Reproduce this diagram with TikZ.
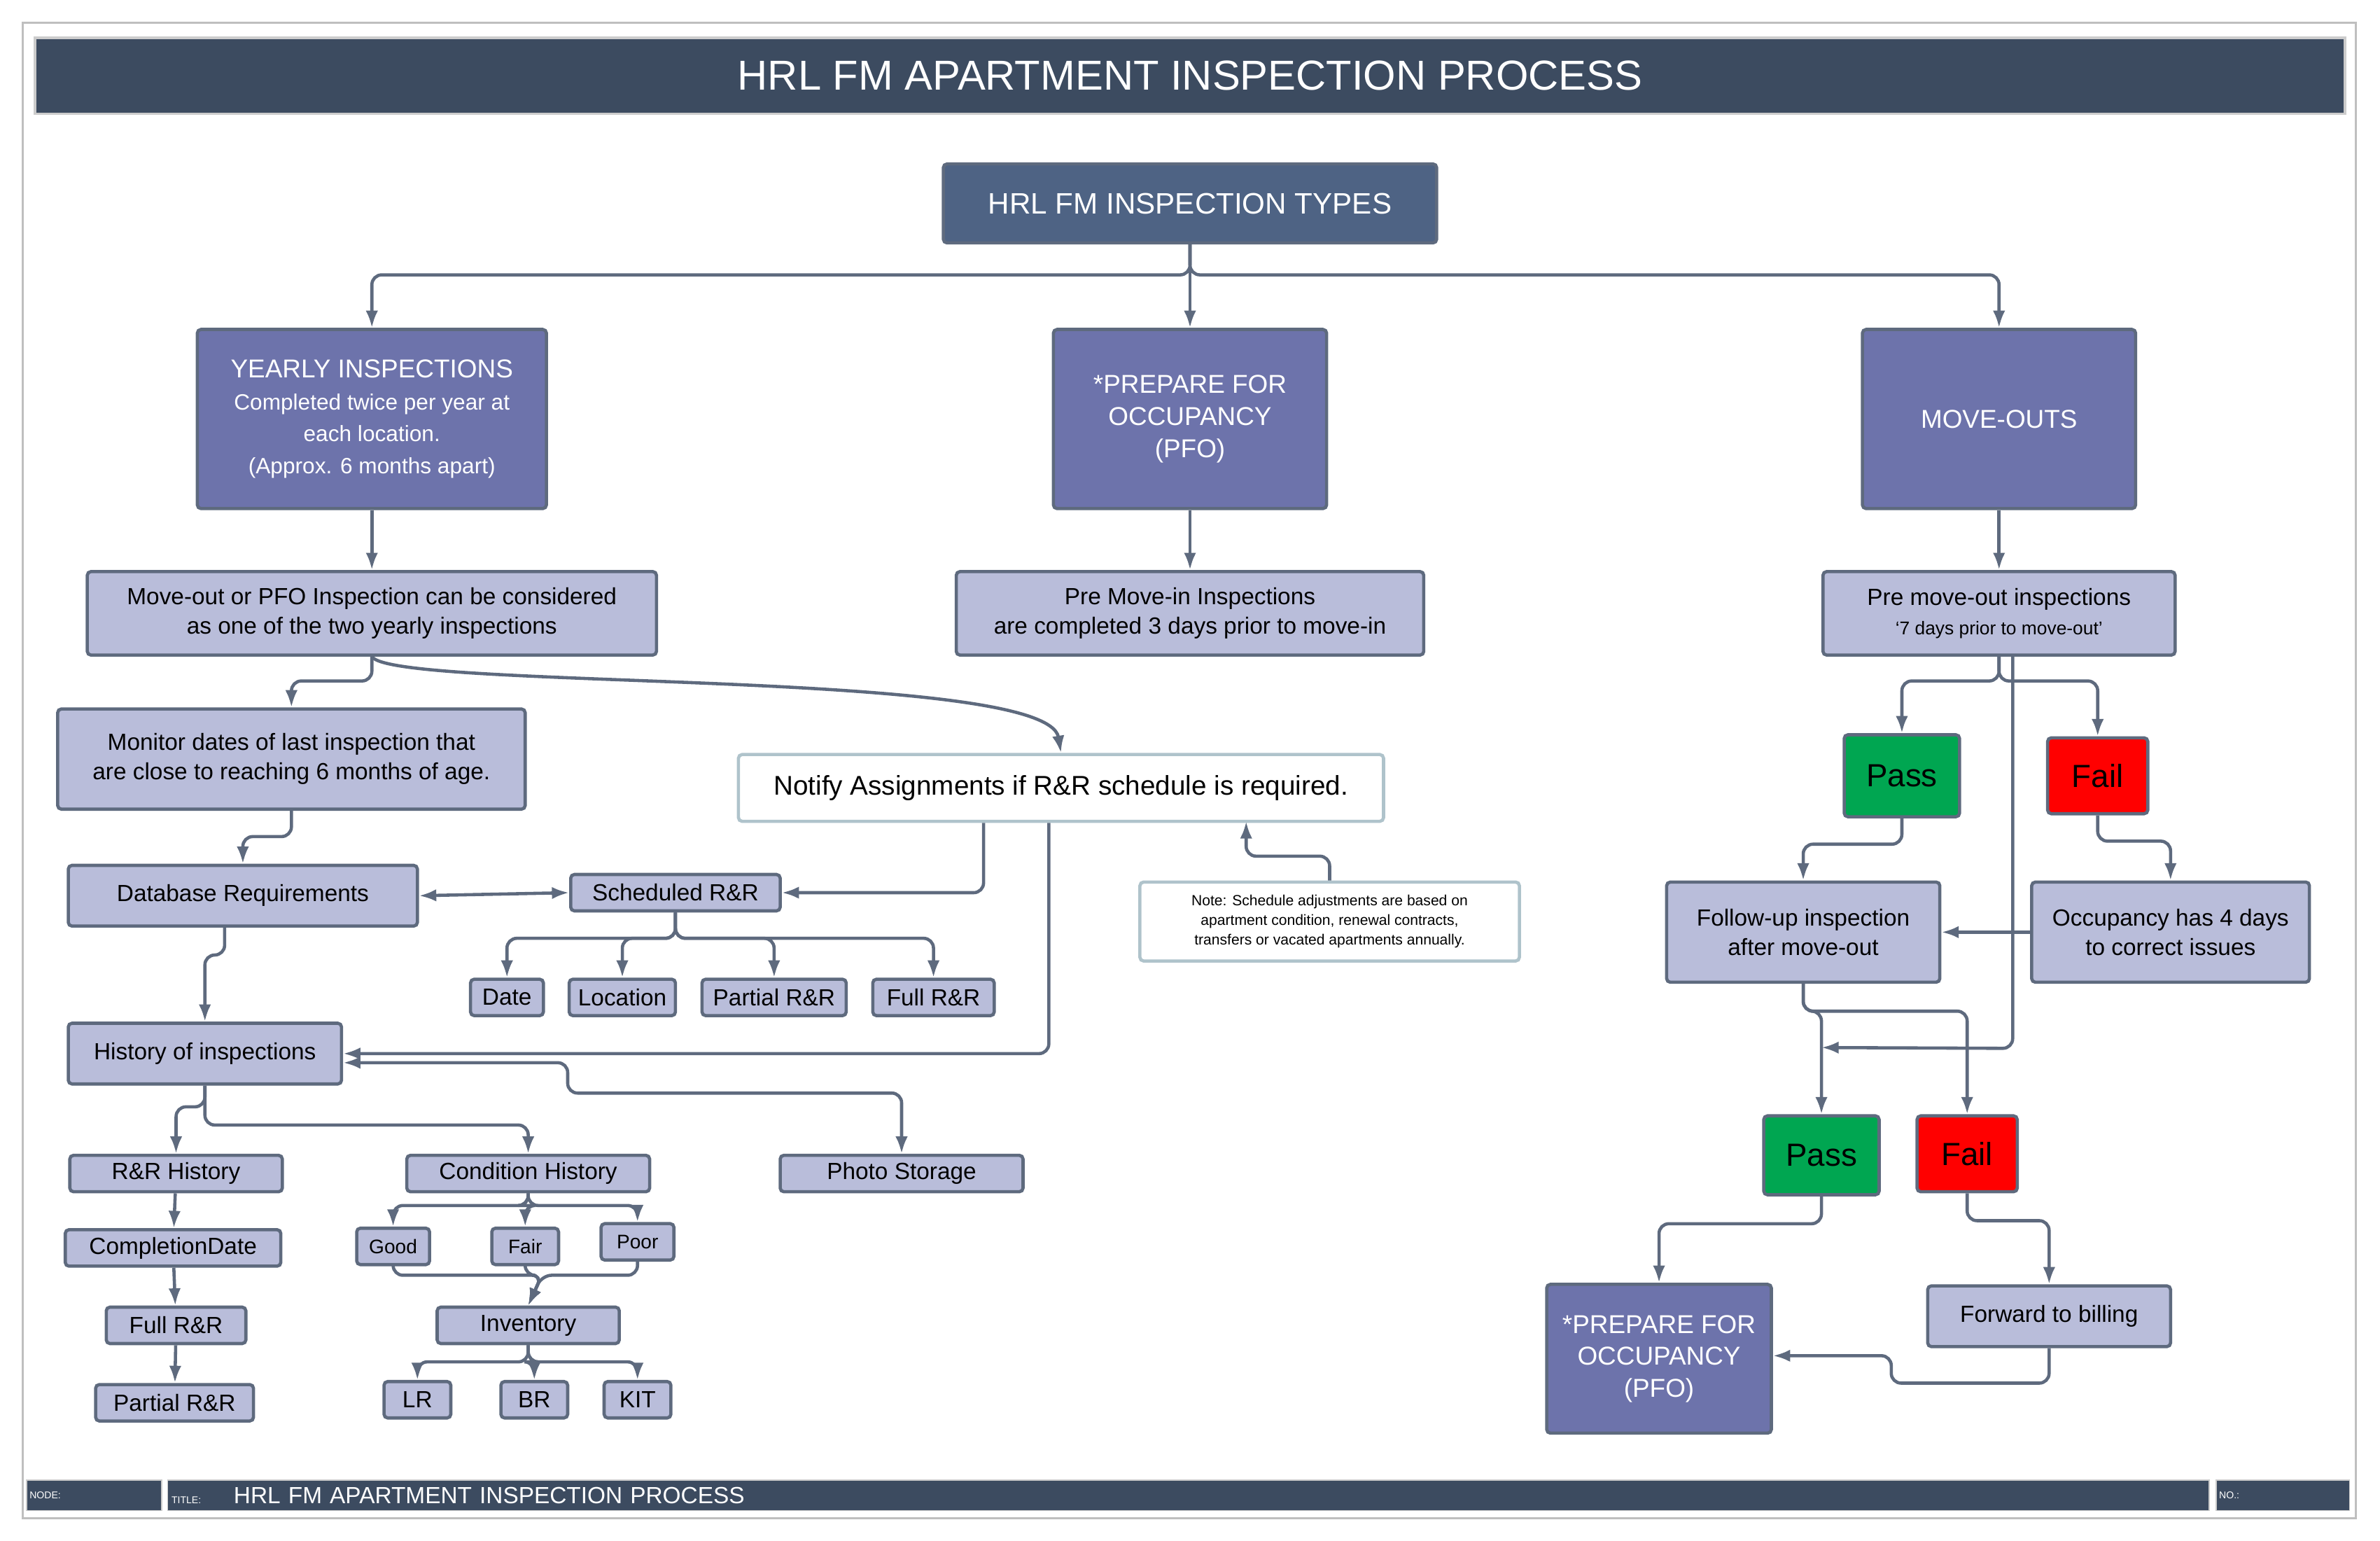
\documentclass[tikz,border=0pt]{standalone}
\usepackage{fontspec}
\setmainfont{Liberation Sans}
\usetikzlibrary{arrows.meta,positioning,calc}
\definecolor{darkbar}{HTML}{3C4B60}
\definecolor{typesblue}{HTML}{4E6384}
\definecolor{midblue}{HTML}{6D73AB}
\definecolor{lightblue}{HTML}{B9BDDA}
\definecolor{linegray}{HTML}{5E6A7E}
\definecolor{passgreen}{HTML}{00A651}
\definecolor{failred}{HTML}{FF0000}
\begin{document}
\begin{tikzpicture}[x=0.02168cm,y=-0.02168cm,
		every node/.style={align=center,font=\fontsize{9.5}{12}\selectfont,inner sep=1pt},
		box/.style 2 args={rectangle,rounded corners=1.5pt,draw=linegray,line width=1.3pt,
			minimum width=#1*0.02168cm,minimum height=#2*0.02168cm},
		lbox/.style 2 args={box={#1}{#2},fill=lightblue},
		mbox/.style 2 args={box={#1}{#2},fill=midblue,text=white,font=\fontsize{10.5}{13}\selectfont},
		link/.style={draw=linegray,line width=1.3pt,rounded corners=4pt,-{Latex[length=7pt,width=5pt]}},
		both/.style={link,{Latex[length=7pt,width=5pt]}-{Latex[length=7pt,width=5pt]}}
	]
	\useasboundingbox (0,0) rectangle (1568,1015);
	% frame and title bars
	\draw[gray!50,line width=1pt] (15,15) rectangle (1552,1000);
	\node[rectangle,fill=darkbar,draw=gray!40,line width=1pt,minimum width=1522*0.02168cm,minimum height=50*0.02168cm,
		text=white,font=\fontsize{17}{20}\selectfont] (title) at (784,50) {HRL FM APARTMENT INSPECTION PROCESS};
	\node[rectangle,fill=darkbar,draw=gray!40,minimum width=89*0.02168cm,minimum height=20*0.02168cm,
		text=white,font=\fontsize{4}{5}\selectfont,text width=85*0.02168cm,align=left] (nodebar) at (62,985) {NODE:};
	\node[rectangle,fill=darkbar,draw=gray!40,minimum width=1345*0.02168cm,minimum height=20*0.02168cm,
		text=white,text width=1340*0.02168cm,align=left] (titlebar) at (783,985)
		{{\fontsize{4}{5}\selectfont TITLE:}\hspace{1.4em}HRL FM APARTMENT INSPECTION PROCESS};
	\node[rectangle,fill=darkbar,draw=gray!40,minimum width=88*0.02168cm,minimum height=20*0.02168cm,
		text=white,font=\fontsize{4}{5}\selectfont,text width=84*0.02168cm,align=left] (nobar) at (1504,985) {NO.:};
	% top level
	\node[box={325}{52},fill=typesblue,text=white,font=\fontsize{12}{14}\selectfont] (types) at (784,134) {HRL FM INSPECTION TYPES};
	\node[mbox={230}{118}] (yearly) at (245,276) {YEARLY INSPECTIONS\\{\fontsize{9}{12}\selectfont Completed twice per year at}\\{\fontsize{9}{12}\selectfont each location.}\\{\fontsize{9}{12}\selectfont (Approx. 6 months apart)}};
	\node[mbox={180}{118}] (pfo) at (784,276) {*PREPARE FOR\\OCCUPANCY\\(PFO)};
	\node[mbox={180}{118}] (moveouts) at (1317,276) {MOVE-OUTS};
	\node[lbox={375}{55}] (considered) at (245,404) {Move-out or PFO Inspection can be considered\\as one of the two yearly inspections};
	\node[lbox={308}{55}] (premovein) at (784,404) {Pre Move-in Inspections\\are completed 3 days prior to move-in};
	\node[lbox={232}{55}] (premoveout) at (1317,404) {Pre move-out inspections\\{\fontsize{7.5}{10}\selectfont `7 days prior to move-out'}};
	\node[lbox={308}{66}] (monitor) at (192,500) {Monitor dates of last inspection that\\are close to reaching 6 months of age.};
	\node[box={425}{44},fill=white,draw=cyan!25!gray!60,font=\fontsize{11}{13}\selectfont] (notify) at (699,519) {Notify Assignments if R\&R schedule is required.};
	\node[box={250}{52},fill=white,draw=cyan!25!gray!60,font=\fontsize{6}{8}\selectfont] (note) at (876,607) {Note: Schedule adjustments are based on\\apartment condition, renewal contracts,\\transfers or vacated apartments annually.};
	% left branch
	\node[lbox={230}{40}] (database) at (160,590) {Database Requirements};
	\node[lbox={138}{24}] (scheduled) at (445,588) {Scheduled R\&R};
	\node[lbox={48}{24}] (date) at (334,657) {Date};
	\node[lbox={70}{24}] (location) at (410,657) {Location};
	\node[lbox={95}{24}] (partialrr) at (510,657) {Partial R\&R};
	\node[lbox={80}{24}] (fullrr) at (615,657) {Full R\&R};
	\node[lbox={180}{40}] (history) at (135,694) {History of inspections};
	\node[lbox={140}{24}] (rrhistory) at (116,773) {R\&R History};
	\node[lbox={160}{24}] (condhistory) at (348,773) {Condition History};
	\node[lbox={160}{24}] (photo) at (594,773) {Photo Storage};
	\node[lbox={142}{24}] (compdate) at (114,822) {CompletionDate};
	\node[lbox={92}{24}] (histfull) at (116,873) {Full R\&R};
	\node[lbox={104}{24}] (histpartial) at (115,924) {Partial R\&R};
	\node[lbox={48}{24},font=\fontsize{8}{10}\selectfont] (good) at (259,821) {Good};
	\node[lbox={44}{24},font=\fontsize{8}{10}\selectfont] (fair) at (346,821) {Fair};
	\node[lbox={48}{24},font=\fontsize{8}{10}\selectfont] (poor) at (420,818) {Poor};
	\node[lbox={120}{24}] (inventory) at (348,873) {Inventory};
	\node[lbox={44}{24}] (lr) at (275,922) {LR};
	\node[lbox={44}{24}] (br) at (352,922) {BR};
	\node[lbox={44}{24}] (kit) at (420,922) {KIT};
	% right branch
	\node[box={76}{54},fill=passgreen,font=\fontsize{13}{15}\selectfont] (pass1) at (1253,511) {Pass};
	\node[box={66}{50},fill=failred,font=\fontsize{13}{15}\selectfont] (fail1) at (1382,511) {Fail};
	\node[lbox={180}{66}] (followup) at (1188,614) {Follow-up inspection\\after move-out};
	\node[lbox={183}{66}] (occupancy) at (1430,614) {Occupancy has 4 days\\to correct issues};
	\node[box={76}{52},fill=passgreen,font=\fontsize{13}{15}\selectfont] (pass2) at (1200,761) {Pass};
	\node[box={66}{50},fill=failred,font=\fontsize{13}{15}\selectfont] (fail2) at (1296,760) {Fail};
	\node[mbox={148}{98}] (pfo2) at (1093,895) {*PREPARE FOR\\OCCUPANCY\\(PFO)};
	\node[lbox={160}{40}] (billing) at (1350,867) {Forward to billing};
	% connectors
	\path[link] (types.south) -- ++(0,20) -| (yearly.north);
	\path[link] (types.south) -- (pfo.north);
	\path[link] (types.south) -- ++(0,20) -| (moveouts.north);
	\path[link] (yearly) -- (considered);
	\path[link] (pfo) -- (premovein);
	\path[link] (moveouts) -- (premoveout);
	\path[link] (considered.south) -- ++(0,16) -| (monitor.north);
	\path[link] (considered.south) .. controls (260,455) and (690,440) .. (notify.north);
	\path[link] (monitor.south) -- ++(0,17) -| (database.north);
	\path[both] (database.east) -- (scheduled.west);
	\path[link] (notify.south -| 648,0) |- (scheduled.east);
	\path[link] (note.north) -- ++(0,-16) -| (821,541);
	\foreach \leaf in {date,location,partialrr,fullrr}
		\path[link] (scheduled.south) -- ++(0,17) -| (\leaf.north);
	\path[link] (database.south -| 148,0) -- ++(0,18) -| (history.north);
	\path[link] (notify.south -| 691,0) |- (history.east);
	\path[link] (premoveout.south -| 1326,0) -- ++(0,258) -- (1200,690);
	\path[both] (history.east) ++(0,6) -| (374,720) -| (photo.north);
	\path[link] (history.south) -- ++(0,14) -| (rrhistory.north);
	\path[link] (history.south) -- ++(0,26) -| (condhistory.north);
	\path[link] (rrhistory) -- (compdate);
	\path[link] (compdate) -- (histfull);
	\path[link] (histfull) -- (histpartial);
	\foreach \leaf in {good,fair,poor}
		\path[link] (condhistory.south) -- ++(0,8) -| (\leaf.north);
	\foreach \leaf in {good,fair,poor}
		\path[link] (\leaf.south) |- (357,840) -- (inventory.north);
	\foreach \leaf in {lr,br,kit}
		\path[link] (inventory.south) -- ++(0,11) -| (\leaf.north);
	\path[link] (premoveout.south) -- ++(0,16) -| (pass1.north);
	\path[link] (premoveout.south) -- ++(0,16) -| (fail1.north);
	\path[link] (pass1.south) -- ++(0,17) -| (followup.north);
	\path[link] (fail1.south) -- ++(0,17) -| (occupancy.north);
	\path[link] (occupancy.west) -- (followup.east);
	\path[link] (followup.south) -- ++(0,18) -| (pass2.north);
	\path[link] (followup.south) -- ++(0,18) -| (fail2.north);
	\path[link] (pass2.south) -- ++(0,18) -| (pfo2.north);
	\path[link] (fail2.south) -- ++(0,18) -| (billing.north);
	\path[link] (billing.south) -- ++(0,23) -| (1246,893) -- (pfo2.east |- 0,893);
\end{tikzpicture}
\end{document}
